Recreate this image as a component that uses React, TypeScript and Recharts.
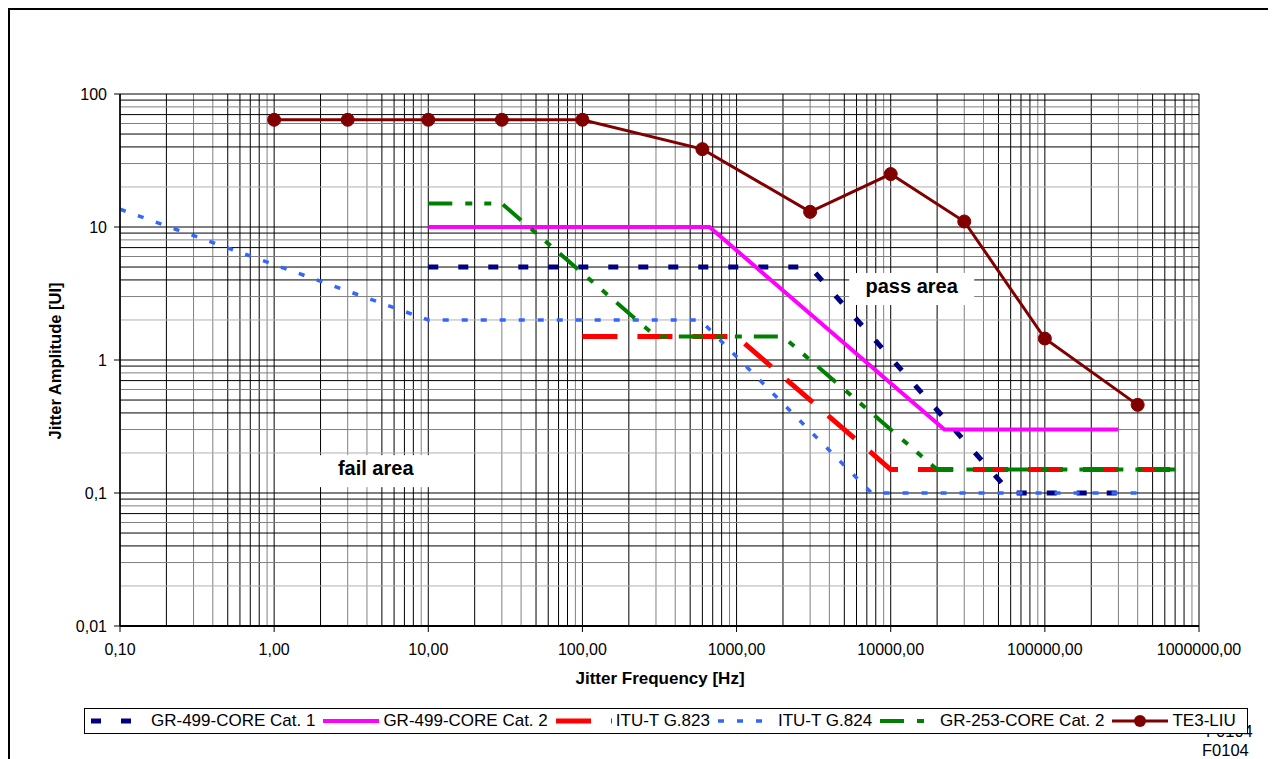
import React from 'react';
import { LineChart, Line, XAxis, YAxis, ReferenceLine, ReferenceDot } from 'recharts';

// Jitter tolerance masks, frequency in Hz, amplitude in UI
const gr499Cat1 = [
  { f: 10, a: 5 },
  { f: 3000, a: 5 },
  { f: 60000, a: 0.1 },
  { f: 300000, a: 0.1 },
];
const gr499Cat2 = [
  { f: 10, a: 10 },
  { f: 667, a: 10 },
  { f: 22300, a: 0.3 },
  { f: 300000, a: 0.3 },
];
const ituG823 = [
  { f: 100, a: 1.5 },
  { f: 1000, a: 1.5 },
  { f: 10000, a: 0.15 },
  { f: 650000, a: 0.15 },
];
const ituG824 = [
  { f: 0.1, a: 13.6 },
  { f: 10, a: 2 },
  { f: 580, a: 2 },
  { f: 7500, a: 0.1 },
  { f: 400000, a: 0.1 },
];
const gr253Cat2 = [
  { f: 10, a: 15 },
  { f: 30, a: 15 },
  { f: 300, a: 1.5 },
  { f: 2000, a: 1.5 },
  { f: 20000, a: 0.15 },
  { f: 700000, a: 0.15 },
];
const te3Liu = [
  { f: 1, a: 64 },
  { f: 3, a: 64 },
  { f: 10, a: 64 },
  { f: 30, a: 64 },
  { f: 100, a: 64 },
  { f: 600, a: 38.5 },
  { f: 3000, a: 13 },
  { f: 10000, a: 25 },
  { f: 30000, a: 11 },
  { f: 100000, a: 1.45 },
  { f: 400000, a: 0.46 },
];

const xDecades = [0.1, 1, 10, 100, 1000, 10000, 100000, 1000000];
const yDecades = [0.01, 0.1, 1, 10, 100];
const multiples = [1, 2, 3, 4, 5, 6, 7, 8, 9];

const seriesNames = [
  'GR-499-CORE Cat. 1',
  'GR-499-CORE Cat. 2',
  'ITU-T G.823',
  'ITU-T G.824',
  'GR-253-CORE Cat. 2',
  'TE3-LIU',
];
const seriesData = [gr499Cat1, gr499Cat2, ituG823, ituG824, gr253Cat2, te3Liu];

const seriesStyle = [
  { color: '#000080', width: 5, dash: '10 20', dot: false },
  { color: '#ff00ff', width: 4, dash: undefined, dot: false },
  { color: '#ff0000', width: 5, dash: '35 20', dot: false },
  { color: '#3366ff', width: 3.5, dash: '6 13', dot: false },
  { color: '#008000', width: 4, dash: '24 13 7 12 7 12', dot: false },
  { color: '#800000', width: 3, dash: undefined, dot: true },
];

const FONT = '"Liberation Sans", Arial, sans-serif';

// grid colours per multiple within each decade (the original mixes black and grey lines)
const vColor: Record<number, string> = {
  1: '#000', 2: '#000', 3: '#808080', 4: '#808080', 5: '#000', 6: '#000', 7: '#000', 8: '#000', 9: '#808080',
};
const hColor: Record<number, string> = {
  1: '#000', 2: '#b0b0b0', 3: '#808080', 4: '#000', 5: '#000', 6: '#808080', 7: '#000', 8: '#808080', 9: '#000',
};

const xGrid: { v: number; c: string }[] = [];
xDecades.slice(0, -1).forEach((d) => multiples.forEach((m) => xGrid.push({ v: d * m, c: vColor[m] })));
xGrid.push({ v: 1000000, c: '#000' });
const yGrid: { v: number; c: string }[] = [];
yDecades.slice(0, -1).forEach((d) => multiples.forEach((m) => yGrid.push({ v: d * m, c: hColor[m] })));
yGrid.push({ v: 100, c: '#000' });

const fmtX = (v: number) => v.toFixed(2).replace('.', ',');
const fmtY = (v: number) => String(v).replace('.', ',');

function AreaLabel({ cx, cy, text, w }: any) {
  if (cx == null || cy == null) return null;
  return (
    <g>
      <rect x={cx - w / 2} y={cy - 16} width={w} height={32} fill='#fff' />
      <text
        x={cx}
        y={cy + 4}
        textAnchor='middle'
        fontFamily={FONT}
        fontWeight='bold'
        fontSize={20}
        fill='#000'
      >
        {text}
      </text>
    </g>
  );
}

function LegendSample({ i }: { i: number }) {
  const s = seriesStyle[i];
  return (
    <svg width={56} height={14} style={{ display: 'block', marginRight: i === 0 ? 6 : 4 }}>
      <line
        x1={i === 0 ? 2 : 0}
        y1={7}
        x2={56}
        y2={7}
        stroke={s.color}
        strokeWidth={s.width}
        strokeDasharray={s.dash}
      />
      {s.dot && <circle cx={28} cy={7} r={6} fill={s.color} />}
    </svg>
  );
}

export default function App() {
  return (
    <div
      style={{
        position: 'relative',
        width: 1268,
        height: 751,
        overflow: 'hidden',
        fontFamily: FONT,
        background: '#fff',
      }}
    >
      {/* outer chart frame, runs past the window on the right and bottom */}
      <div
        style={{
          position: 'absolute',
          left: -1,
          top: -1,
          width: 1330,
          height: 830,
          border: '3px solid #000',
          boxSizing: 'border-box',
        }}
      />

      <div style={{ position: 'absolute', left: 0, top: 0 }}>
        <LineChart width={1268} height={751} margin={{ top: 86, right: 77, bottom: 103, left: 52 }}>
          <XAxis
            dataKey='f'
            type='number'
            scale='log'
            domain={[0.1, 1000000]}
            allowDataOverflow
            ticks={xDecades}
            interval={0}
            tickFormatter={fmtX}
            height={30}
            tickSize={6}
            tickMargin={12}
            axisLine={{ stroke: '#000', strokeWidth: 2 }}
            tickLine={{ stroke: '#000' }}
            tick={{ fill: '#000', fontSize: 16, fontFamily: FONT }}
          />
          <YAxis
            type='number'
            scale='log'
            domain={[0.01, 100]}
            allowDataOverflow
            ticks={yDecades}
            interval={0}
            tickFormatter={fmtY}
            width={60}
            tickSize={6}
            tickMargin={7}
            axisLine={{ stroke: '#000', strokeWidth: 1.5 }}
            tickLine={{ stroke: '#000' }}
            tick={{ fill: '#000', fontSize: 16, fontFamily: FONT }}
          />

          {xGrid.map((g, i) => (
            <ReferenceLine key={'vx' + i} x={g.v} stroke={g.c} strokeWidth={1} />
          ))}
          {yGrid.map((g, i) => (
            <ReferenceLine key={'hy' + i} y={g.v} stroke={g.c} strokeWidth={1} />
          ))}

          {seriesData.map((d, i) => {
            const s = seriesStyle[i];
            return (
              <Line
                key={seriesNames[i]}
                name={seriesNames[i]}
                data={d}
                dataKey='a'
                type='linear'
                stroke={s.color}
                strokeWidth={s.width}
                strokeDasharray={s.dash}
                dot={s.dot ? { r: 6.5, fill: s.color, stroke: s.color, strokeWidth: 1 } : false}
                activeDot={false}
                isAnimationActive={false}
              />
            );
          })}

          <ReferenceDot
            x={13680}
            y={3.42}
            r={0}
            shape={(p: any) => <AreaLabel {...p} text='pass area' w={125} />}
          />
          <ReferenceDot
            x={4.56}
            y={0.146}
            r={0}
            shape={(p: any) => <AreaLabel {...p} text='fail area' w={114} />}
          />
        </LineChart>
      </div>

      {/* axis titles */}
      <div
        style={{
          position: 'absolute',
          left: 47,
          top: 353,
          transform: 'translate(-50%, -50%) rotate(-90deg)',
          whiteSpace: 'nowrap',
          fontWeight: 'bold',
          fontSize: 16.5,
        }}
      >
        Jitter Amplitude [UI]
      </div>
      <div
        style={{
          position: 'absolute',
          left: 652,
          top: 671,
          transform: 'translate(-50%, -50%)',
          whiteSpace: 'nowrap',
          fontWeight: 'bold',
          fontSize: 17,
        }}
      >
        Jitter Frequency [Hz]
      </div>

      {/* figure code, one copy sits behind the legend box */}
      <div style={{ position: 'absolute', left: 1198, top: 713, fontSize: 16.5, lineHeight: '20px' }}>F0104</div>
      <div style={{ position: 'absolute', left: 1194, top: 732, fontSize: 16.5, lineHeight: '20px' }}>F0104</div>

      {/* legend */}
      <div
        style={{
          position: 'absolute',
          left: 76,
          top: 700,
          width: 1164,
          height: 26,
          boxSizing: 'border-box',
          border: '1px solid #000',
          background: '#fff',
          display: 'flex',
          alignItems: 'center',
          paddingLeft: 4,
          fontSize: 17,
          whiteSpace: 'nowrap',
        }}
      >
        {seriesNames.map((n, i) => (
          <div key={n} style={{ display: 'flex', alignItems: 'center', marginRight: 8 }}>
            <LegendSample i={i} />
            <span>{n}</span>
          </div>
        ))}
      </div>
    </div>
  );
}
